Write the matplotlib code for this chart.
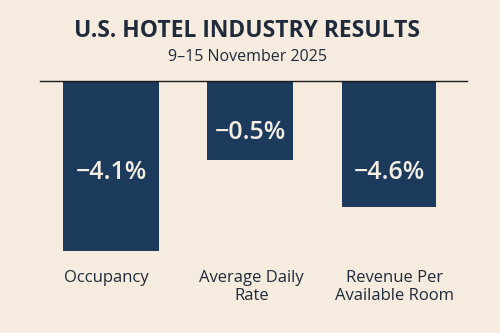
import matplotlib
matplotlib.use('Agg')
import matplotlib.pyplot as plt

# data
categories = ['Occupancy', 'Average Daily\nRate', 'Revenue Per\nAvailable Room']
changes = [-4.1, -0.5, -4.6]            # % change shown on the bars
bar_depth = [-4.1, -1.9, -3.05]        # bar lengths as drawn in the picture
title = 'U.S. HOTEL INDUSTRY RESULTS'
subtitle = '9\u201315 November 2025'

bg = '#f5ebdf'
navy = '#1c3a5c'
ink = '#1f2b3a'

plt.rcParams['font.family'] = ['Open Sans', 'DejaVu Sans']

fig = plt.figure(figsize=(5, 3.33), dpi=100, facecolor=bg)
ax = fig.add_axes([40 / 500, 1 - 251 / 333, 427 / 500, 170 / 333])
ax.set_facecolor(bg)

x = range(len(categories))
widths = [0.69, 0.62, 0.68]
ax.bar(x, bar_depth, width=widths, color=navy, zorder=2)
ax.set_xlim(-0.51, 2.56)
ax.set_ylim(-4.1, 0)

# value labels inside the bars
label_y = [-2.2, -1.25, -2.2]
for i, v in enumerate(changes):
    ax.text(i, label_y[i], '\u2212%.1f%%' % abs(v), ha='center', va='center',
            color='#f3ede2', fontsize=18, fontweight='semibold', zorder=3)

# category labels under the bars
for i, c in enumerate(categories):
    ax.text(i + [-0.03, 0.01, 0.04][i], -4.55, c, ha='center', va='top',
            color=ink, fontsize=12, linespacing=1.2)

for s in ['left', 'right', 'bottom']:
    ax.spines[s].set_visible(False)
ax.spines['top'].set_color('#1a1a1a')
ax.spines['top'].set_linewidth(1.0)
ax.set_xticks([])
ax.set_yticks([])

fig.text(0.494, 1 - 31 / 333, title, ha='center', va='center',
         fontsize=16.5, fontweight='bold', color=ink)
fig.text(0.494, 1 - 57 / 333, subtitle, ha='center', va='center',
         fontsize=11.5, color=ink)

fig.savefig('out.png', dpi=100, facecolor=bg)
